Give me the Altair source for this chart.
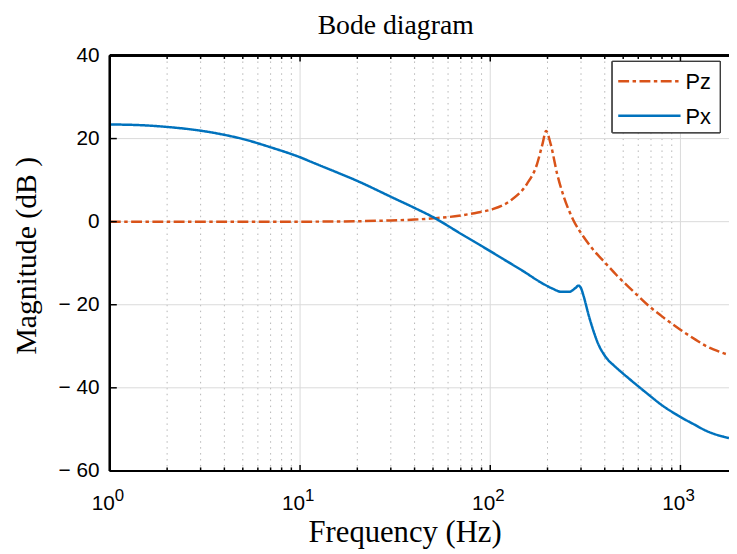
import altair as alt
import pandas as pd

# ---------------- data ----------------
px_freq = [1, 1.5, 2, 3, 4, 5, 7, 10, 12, 15, 20, 30, 40, 50, 70, 95, 123, 150, 184,
           210, 238, 260, 280, 291, 300, 310, 330, 350, 370, 394, 420, 446, 500, 560,
           686, 800, 982, 1200, 1358, 1600, 1800]
px_mag = [23.4, 23.2, 22.8, 21.9, 20.9, 19.9, 17.9, 15.5, 14.0, 12.2, 9.8, 6.0, 3.3, 1.1,
          -2.9, -6.5, -9.6, -12.0, -14.6, -16.0, -16.9, -16.9, -16.0, -15.4, -16.0,
          -18.0, -22.7, -26.5, -29.5, -31.8, -33.5, -34.6, -36.6, -38.5, -41.8, -44.2,
          -46.8, -49.0, -50.3, -51.5, -52.1]

pz_freq = [1, 2, 5, 10, 20, 30, 40, 50, 60, 70, 86, 103, 128, 156, 176, 188, 196.6, 208,
           225, 244, 274, 310, 350, 400, 462, 560, 686, 800, 982, 1200, 1358, 1600, 1800]
pz_mag = [0.0, 0.0, 0.0, 0.0, 0.1, 0.3, 0.5, 0.8, 1.1, 1.5, 2.2, 3.0, 5.1, 9.1, 13.8,
          18.6, 21.8, 18.6, 11.4, 5.9, 0.3, -3.7, -6.9, -9.8, -12.9, -16.6, -20.4,
          -22.8, -25.8, -28.4, -29.9, -31.3, -32.1]

series_names = ["Pz", "Px"]
series_colors = ["#D95319", "#0072BD"]
series_dashes = [[11, 3.5, 3.5, 3.5], [1, 0]]

decades = [1, 10, 100, 1000]
exponents = ["0", "1", "2", "3"]
minor_ticks = [m * d for d in [1, 10, 100, 1000] for m in range(2, 10)]
y_ticks = [-60, -40, -20, 0, 20, 40]

x_domain = [1, 1800]
y_domain = [-60, 40]

W, H = 626, 420

# ---------------- tables ----------------
df = pd.concat([
    pd.DataFrame({"f": pz_freq, "dB": pz_mag, "series": "Pz"}),
    pd.DataFrame({"f": px_freq, "dB": px_mag, "series": "Px"}),
])
df_dec = pd.DataFrame({"f": decades, "exp": exponents})
df_min = pd.DataFrame({"f": [v for v in minor_ticks if v <= x_domain[1]]})
df_y = pd.DataFrame({"dB": y_ticks})

xs = alt.Scale(type="log", domain=x_domain, nice=False)
ys = alt.Scale(domain=y_domain, nice=False)

SANS = "Liberation Sans"
SERIF = "Liberation Serif"

x_axis = alt.Axis(labels=False, ticks=False, domain=False, grid=False,
                  title="Frequency (Hz)", titleFont=SERIF, titleFontSize=31,
                  titleFontWeight="normal", titleColor="black",
                  titleX=298, titleY=71, titleAlign="center",
                  titleBaseline="alphabetic")
y_axis = alt.Axis(values=y_ticks, ticks=False, domain=False, grid=False,
                  labelExpr="datum.value < 0 ? '\u2212 ' + abs(datum.value) : datum.label",
                  labelFont=SANS, labelFontSize=21, labelColor="black",
                  labelPadding=11, labelBaseline="middle",
                  title="Magnitude (dB )", titleFont=SERIF, titleFontSize=30,
                  titleFontWeight="normal", titleColor="black",
                  titleX=-75, titleY=202, titleAngle=-90, titleAlign="center",
                  titleBaseline="alphabetic")

def X():
    return alt.X("f:Q", scale=xs, axis=x_axis)

def Y():
    return alt.Y("dB:Q", scale=ys, axis=y_axis)

# grid
grid_major_x = alt.Chart(df_dec).mark_rule(color="#dadada", strokeWidth=1).encode(x=X())
grid_minor_x = alt.Chart(df_min).mark_rule(color="#b5b5b5", strokeWidth=1,
                                           strokeDash=[1.5, 4.5]).encode(x=X())
grid_y = alt.Chart(df_y).mark_rule(color="#dadada", strokeWidth=1).encode(y=Y())

# curves
lines = alt.Chart(df).mark_line(strokeWidth=2.5, interpolate="monotone", clip=True).encode(
    x=X(), y=Y(),
    color=alt.Color("series:N", scale=alt.Scale(domain=series_names, range=series_colors),
                    legend=None),
    strokeDash=alt.StrokeDash("series:N",
                              scale=alt.Scale(domain=series_names, range=series_dashes),
                              legend=None),
)

# inward ticks
tick_style = dict(color="black", strokeWidth=1.5)
bot_major = alt.Chart(df_dec).mark_rule(**tick_style).encode(
    x=X(), y=alt.value(H), y2=alt.value(H - 6))
bot_minor = alt.Chart(df_min).mark_rule(**tick_style).encode(
    x=X(), y=alt.value(H), y2=alt.value(H - 3.5))
top_major = alt.Chart(df_dec).mark_rule(**tick_style).encode(
    x=X(), y=alt.value(0), y2=alt.value(6))
top_minor = alt.Chart(df_min).mark_rule(**tick_style).encode(
    x=X(), y=alt.value(0), y2=alt.value(3.5))
left_ticks = alt.Chart(df_y).mark_rule(**tick_style).encode(
    y=Y(), x=alt.value(0), x2=alt.value(7))

# frame (left, bottom, top)
frame_style = dict(color="black", strokeWidth=2)
frame_left = alt.Chart(df_y).mark_rule(**frame_style).encode(
    x=alt.value(0), y=alt.value(0), y2=alt.value(H))
frame_bottom = alt.Chart(df_y).mark_rule(**frame_style).encode(
    x=alt.value(0), x2=alt.value(W), y=alt.value(H))
frame_top = alt.Chart(df_y).mark_rule(**frame_style).encode(
    x=alt.value(0), x2=alt.value(W), y=alt.value(0))

# x tick labels 10^n
lab_base = alt.Chart(df_dec).mark_text(font=SANS, fontSize=21, color="black",
                                       align="right", baseline="alphabetic", dx=5).encode(
    x=X(), y=alt.value(H + 40), text=alt.value("10"))
lab_exp = alt.Chart(df_dec).mark_text(font=SANS, fontSize=17, color="black",
                                      align="left", baseline="alphabetic", dx=5).encode(
    x=X(), y=alt.value(H + 30), text="exp:N")

# legend (drawn by hand, MATLAB style)
leg_box = alt.Chart(df_y).mark_rect(fill="white", stroke="#333333", strokeWidth=1).encode(
    x=alt.value(508), x2=alt.value(617), y=alt.value(6), y2=alt.value(78))
leg_layers = [leg_box]
for i, (name, col, dash) in enumerate(zip(series_names, series_colors, series_dashes)):
    ld = pd.DataFrame({"series": [name]})
    yy = 26 + 35 * i
    leg_layers.append(alt.Chart(ld).mark_rule(color=col, strokeWidth=2.5, strokeDash=dash).encode(
        x=alt.value(514), x2=alt.value(577), y=alt.value(yy)))
    leg_layers.append(alt.Chart(ld).mark_text(font=SANS, fontSize=22, color="black",
                                              align="left", baseline="middle").encode(
        x=alt.value(582), y=alt.value(yy + 1), text="series:N"))

chart = alt.layer(
    grid_major_x, grid_minor_x, grid_y, lines,
    bot_major, bot_minor, top_major, top_minor, left_ticks,
    frame_left, frame_bottom, frame_top, lab_base, lab_exp, *leg_layers,
).properties(
    width=W, height=H,
    autosize=alt.AutoSizeParams(type="none"),
    padding={"left": 103, "top": 45, "right": 0, "bottom": 81},
    title=alt.Title("Bode diagram", font=SERIF, fontSize=28, fontWeight="normal",
                    color="black", anchor="middle", frame="group", dx=-24, offset=5),
).configure_view(stroke=None)

chart.save("out.html", embed_options={"renderer": "svg", "actions": False})
